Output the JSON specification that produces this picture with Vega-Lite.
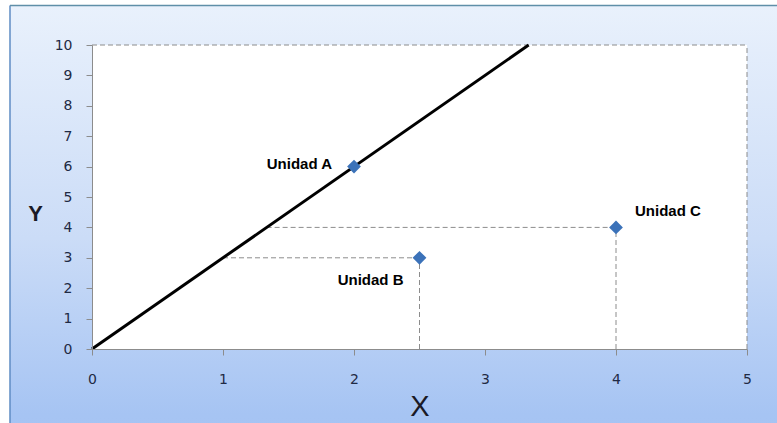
{
  "$schema": "https://vega.github.io/schema/vega-lite/v6.json",
  "width": 655,
  "height": 304,
  "autosize": {"type": "none"},
  "padding": {"left": 92, "top": 45, "right": 30, "bottom": 74},
  "background": "#ffffff",
  "config": {
    "view": {"stroke": null, "fill": null},
    "font": "Liberation Sans"
  },
  "datasets": {
    "marco": [{"parte": "fondo"}],
    "unidades": [
      {"unidad": "Unidad A", "x": 2, "y": 6},
      {"unidad": "Unidad B", "x": 2.5, "y": 3},
      {"unidad": "Unidad C", "x": 4, "y": 4}
    ],
    "recta": [
      {"x": 0, "y": 0},
      {"x": 3.333, "y": 10}
    ],
    "guias": [
      {"x": 0, "y": 10, "x2": 5, "y2": 10},
      {"x": 5, "y": 0, "x2": 5, "y2": 10},
      {"x": 1, "y": 3, "x2": 2.5, "y2": 3},
      {"x": 2.5, "y": 0, "x2": 2.5, "y2": 3},
      {"x": 1.333, "y": 4, "x2": 4, "y2": 4},
      {"x": 4, "y": 0, "x2": 4, "y2": 4}
    ]
  },
  "encoding": {
    "x": {
      "type": "quantitative",
      "scale": {"domain": [0, 5], "nice": false, "zero": false},
      "axis": {
        "title": "X",
        "values": [0, 1, 2, 3, 4, 5],
        "grid": false,
        "zindex": 2,
        "labelFlush": false,
        "domainColor": "#8c8c8c",
        "tickColor": "#8c8c8c",
        "tickSize": 6,
        "labelColor": "#1f2a44",
        "labelFontSize": 14,
        "labelFont": "DejaVu Sans",
        "labelPadding": 17,
        "titleFontSize": 29,
        "titleFontWeight": "normal",
        "titleColor": "#1a1a26",
        "titleFont": "Liberation Sans",
        "titlePadding": 6
      }
    },
    "y": {
      "type": "quantitative",
      "scale": {"domain": [0, 10], "nice": false, "zero": false},
      "axis": {
        "title": "Y",
        "values": [0, 1, 2, 3, 4, 5, 6, 7, 8, 9, 10],
        "grid": false,
        "zindex": 2,
        "labelFlush": false,
        "domainColor": "#8c8c8c",
        "tickColor": "#8c8c8c",
        "tickSize": 6,
        "labelColor": "#1f2a44",
        "labelFontSize": 14,
        "labelFont": "DejaVu Sans",
        "labelPadding": 14,
        "titleAngle": 0,
        "titleAlign": "center",
        "titleBaseline": "middle",
        "titleX": -57,
        "titleY": 168,
        "titleFontSize": 22,
        "titleFontWeight": "bold",
        "titleColor": "#1a1a26"
      }
    }
  },
  "layer": [
    {
      "data": {"name": "marco"},
      "mark": {
        "type": "rect",
        "clip": false,
        "color": {
          "gradient": "linear",
          "x1": 0, "y1": 0, "x2": 0, "y2": 1,
          "stops": [
            {"offset": 0, "color": "#e9f1fc"},
            {"offset": 0.5, "color": "#cbdcf7"},
            {"offset": 0.88, "color": "#a6c4f3"},
            {"offset": 1, "color": "#a3c2f2"}
          ]
        }
      },
      "encoding": {
        "x": {"datum": -0.626, "type": "quantitative"},
        "x2": {"datum": 6},
        "y": {"datum": 11.3, "type": "quantitative"},
        "y2": {"datum": -4}
      }
    },
    {
      "data": {"name": "marco"},
      "mark": {"type": "rule", "clip": false, "color": "#5f8cc4", "strokeWidth": 1.5},
      "encoding": {
        "x": {"datum": -0.626, "type": "quantitative"},
        "y": {"datum": 11.3, "type": "quantitative"},
        "y2": {"datum": -4}
      }
    },
    {
      "data": {"name": "marco"},
      "mark": {"type": "rule", "clip": false, "color": "#5f8fa8", "strokeWidth": 1.5},
      "encoding": {
        "x": {"datum": -0.626, "type": "quantitative"},
        "x2": {"datum": 6},
        "y": {"datum": 11.3, "type": "quantitative"}
      }
    },
    {
      "data": {"name": "marco"},
      "mark": {"type": "rect", "color": "#ffffff"},
      "encoding": {
        "x": {"datum": 0, "type": "quantitative"},
        "x2": {"datum": 5},
        "y": {"datum": 0, "type": "quantitative"},
        "y2": {"datum": 10}
      }
    },
    {
      "data": {"name": "guias"},
      "mark": {"type": "rule", "color": "#8c8c8c", "strokeWidth": 1, "strokeDash": [5, 3]},
      "encoding": {
        "x": {"field": "x", "type": "quantitative"},
        "x2": {"field": "x2"},
        "y": {"field": "y", "type": "quantitative"},
        "y2": {"field": "y2"}
      }
    },
    {
      "data": {"name": "recta"},
      "mark": {"type": "line", "color": "#000000", "strokeWidth": 3, "clip": false},
      "encoding": {
        "x": {"field": "x", "type": "quantitative"},
        "y": {"field": "y", "type": "quantitative"}
      }
    },
    {
      "data": {"name": "unidades"},
      "mark": {"type": "point", "shape": "diamond", "filled": true, "size": 190, "color": "#3b72b9", "opacity": 1},
      "encoding": {
        "x": {"field": "x", "type": "quantitative"},
        "y": {"field": "y", "type": "quantitative"}
      }
    },
    {
      "data": {"name": "unidades"},
      "transform": [{"filter": "datum.unidad === 'Unidad A'"}],
      "mark": {"type": "text", "align": "right", "baseline": "middle", "dx": -22, "dy": -3, "fontWeight": "bold", "fontSize": 15, "color": "#000000"},
      "encoding": {
        "x": {"field": "x", "type": "quantitative"},
        "y": {"field": "y", "type": "quantitative"},
        "text": {"field": "unidad"}
      }
    },
    {
      "data": {"name": "unidades"},
      "transform": [{"filter": "datum.unidad === 'Unidad B'"}],
      "mark": {"type": "text", "align": "right", "baseline": "middle", "dx": -16, "dy": 22, "fontWeight": "bold", "fontSize": 15, "color": "#000000"},
      "encoding": {
        "x": {"field": "x", "type": "quantitative"},
        "y": {"field": "y", "type": "quantitative"},
        "text": {"field": "unidad"}
      }
    },
    {
      "data": {"name": "unidades"},
      "transform": [{"filter": "datum.unidad === 'Unidad C'"}],
      "mark": {"type": "text", "align": "left", "baseline": "middle", "dx": 19, "dy": -16, "fontWeight": "bold", "fontSize": 15, "color": "#000000"},
      "encoding": {
        "x": {"field": "x", "type": "quantitative"},
        "y": {"field": "y", "type": "quantitative"},
        "text": {"field": "unidad"}
      }
    }
  ]
}
